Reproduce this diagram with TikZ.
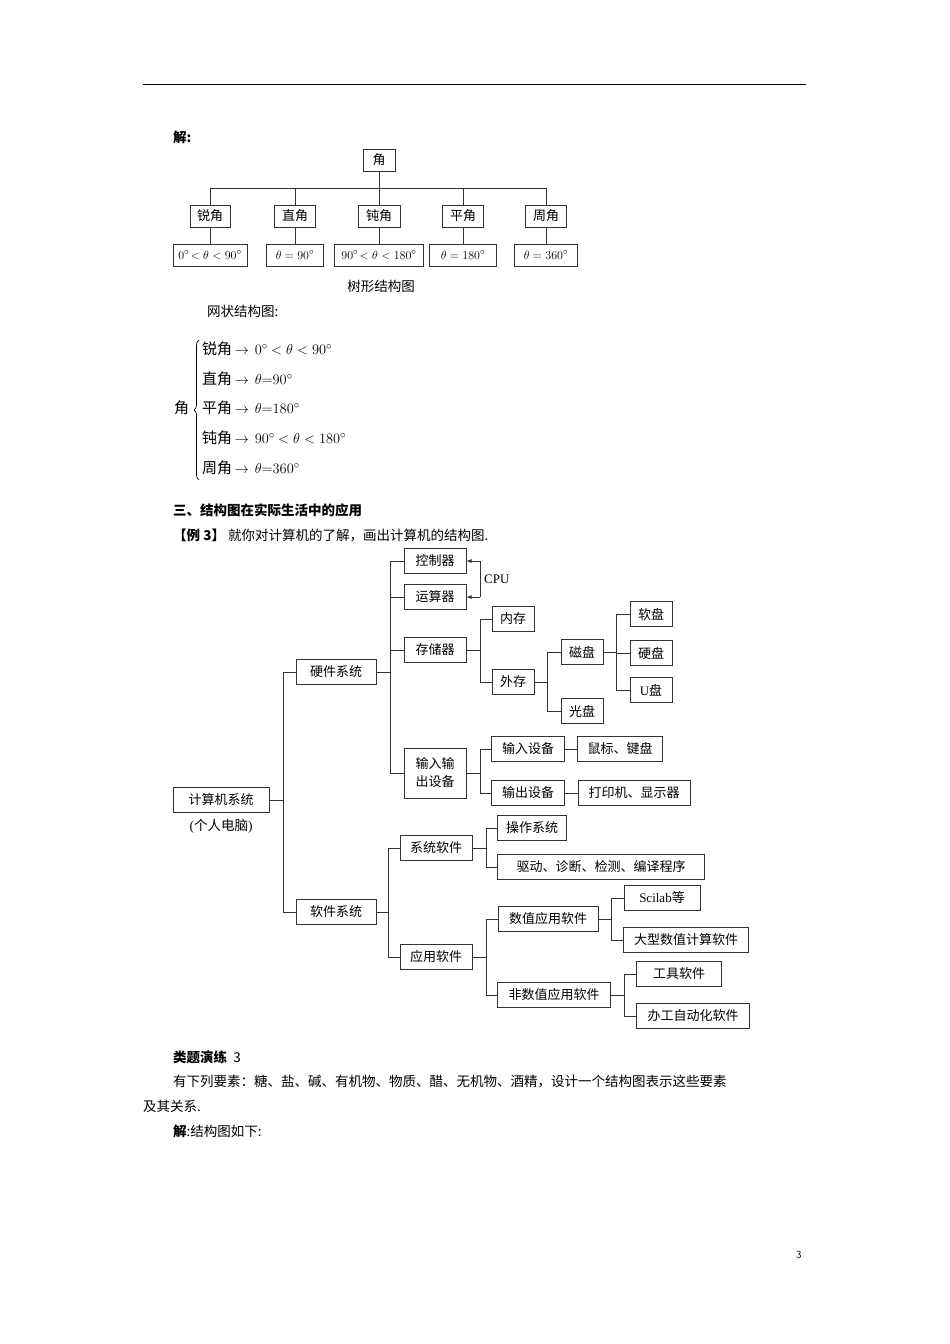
\documentclass[tikz,border=0pt]{standalone}
\usepackage{fontspec}
\setmainfont{Liberation Serif}
\newfontfamily\cjk{Noto Sans CJK SC}
\usetikzlibrary{decorations.pathreplacing}
\tikzset{
  bx/.style={draw=black!80, line width=0.8pt, inner sep=1pt, minimum height=25pt, font=\cjk\fontsize{13}{15}\selectfont, align=center},
  sbx/.style={bx, minimum height=22pt},
  ln/.style={draw=black!80, line width=0.8pt},
  txt/.style={anchor=west, inner sep=0pt, font=\cjk\fontsize{13.5}{16}\selectfont},
}
\newcommand\bx[6][bx]{\node[#1, minimum width=#5pt] (#2) at (#3,#4) {#6};}
\begin{document}
\begin{tikzpicture}[x=1pt,y=-1pt]
\useasboundingbox (0,0) rectangle (950,1344);
\draw[line width=0.8pt] (143,84) -- (806,84);
\node[txt, font=\cjk\bfseries\fontsize{13.5}{16}\selectfont] (jie) at (173,137) {解:};
% tree
\bx[sbx]{r}{379}{160}{32}{角}
\bx[sbx]{a1}{210}{216}{40}{锐角}
\bx[sbx]{a2}{295}{216}{41}{直角}
\bx[sbx]{a3}{379}{216}{42}{钝角}
\bx[sbx]{a4}{463}{216}{41}{平角}
\bx[sbx]{a5}{546}{216}{41}{周角}
\bx[sbx]{b1}{210}{255}{74}{$0^\circ\!<\theta<90^\circ$}
\bx[sbx]{b2}{295}{255}{57}{$\theta=90^\circ$}
\bx[sbx]{b3}{379}{255}{89}{$90^\circ\!<\theta<180^\circ$}
\bx[sbx]{b4}{463}{255}{67}{$\theta=180^\circ$}
\bx[sbx]{b5}{546}{255}{63}{$\theta=360^\circ$}
\draw[ln] (r.south) -- (379,188);
\draw[ln] (210,188) -- (546,188);
\foreach \i/\x in {1/210,2/295,3/379,4/463,5/546}{
  \draw[ln] (\x,188) -- (a\i.north);
  \draw[ln] (a\i.south) -- (b\i.north);
}
\node[txt, anchor=center] (cap) at (381,286) {树形结构图};
\node[txt] (net) at (207,311) {网状结构图:};
% brace
\node[txt, font=\cjk\fontsize{15}{17}\selectfont] (ang) at (174,408) {角};
\draw[decorate, decoration={brace, amplitude=5pt, mirror}, line width=0.7pt] (199,340) -- (199,480);
\begin{scope}[every node/.style={txt, font=\cjk\fontsize{15}{17}\selectfont}]
\node (l1) at (202,349) {锐角$\,\rightarrow\,$ $0^\circ$ $<\theta<90^\circ$};
\node (l2) at (202,379) {直角$\,\rightarrow\,$ $\theta$$=$$90^\circ$};
\node (l3) at (202,408) {平角$\,\rightarrow\,$ $\theta$$=$$180^\circ$};
\node (l4) at (202,438) {钝角$\,\rightarrow\,$ $90^\circ$ $<\theta<180^\circ$};
\node (l5) at (202,468) {周角$\,\rightarrow\,$ $\theta$$=$$360^\circ$};
\end{scope}
\node[txt, font=\cjk\bfseries\fontsize{13.5}{16}\selectfont] (sec) at (173,510) {三、结构图在实际生活中的应用};
\node[txt] (ex) at (173,535) {{\bfseries 【例 3】}\ 就你对计算机的了解，画出计算机的结构图.};
% computer tree
\bx{kz}{435}{561}{62}{控制器}
\bx{ys}{435}{597}{62}{运算器}
\bx{hw}{336}{672}{80}{硬件系统}
\bx{cc}{435}{650}{62}{存储器}
\bx{nc}{513}{619}{42}{内存}
\bx{wc}{513}{682}{42}{外存}
\bx{cp}{582}{652}{42}{磁盘}
\bx{gp}{582}{711}{42}{光盘}
\bx{rp}{651}{614}{42}{软盘}
\bx{yp}{651}{653}{42}{硬盘}
\bx{up}{651}{690}{42}{{\rmfamily U}盘}
\node[bx, minimum width=62pt, minimum height=50pt, font=\cjk\fontsize{13}{18}\selectfont] (io) at (435,773) {输入输\\出设备};
\bx{sr}{528}{749}{73}{输入设备}
\bx{sb}{620}{749}{85}{鼠标、键盘}
\bx{sc}{528}{793}{73}{输出设备}
\bx{dy}{634}{793}{112}{打印机、显示器}
\bx{pc}{221}{800}{96}{计算机系统}
\node[txt, anchor=center] (pcs) at (221,826) {\rmfamily(\cjk 个人电脑\rmfamily)};
\bx{sw}{336}{912}{80}{软件系统}
\bx{xt}{436}{848}{72}{系统软件}
\bx{yy}{436}{957}{72}{应用软件}
\bx{cz}{532}{828}{69}{操作系统}
\bx{qd}{601}{867}{207}{驱动、诊断、检测、编译程序}
\bx{sz}{548}{919}{100}{数值应用软件}
\bx{fs}{554}{995}{113}{非数值应用软件}
\bx{sl}{662}{898}{76}{{\rmfamily Scilab}等}
\bx{dx}{686}{940}{125}{大型数值计算软件}
\bx{gj}{679}{974}{85}{工具软件}
\bx{bg}{693}{1016}{113}{办工自动化软件}
\newcommand\elb[3]{\foreach \c in {#3}{\draw[ln] (#1.east) -- (#2,0 |- #1.east) |- (\c.west);}}
\elb{pc}{283}{hw,sw}
\elb{hw}{390}{kz,ys,cc,io}
\elb{cc}{480}{nc,wc}
\elb{wc}{547}{cp,gp}
\elb{cp}{616}{rp,yp,up}
\elb{io}{480}{sr,sc}
\draw[ln] (sr.east) -- (sb.west);
\draw[ln] (sc.east) -- (dy.west);
\elb{sw}{388}{xt,yy}
\elb{xt}{486}{cz,qd}
\elb{yy}{486}{sz,fs}
\elb{sz}{611}{sl,dx}
\elb{fs}{624}{gj,bg}
% CPU
\coordinate (cpuA) at (480,561);
\coordinate (cpuB) at (480,597);
\draw[ln, -latex] (cpuA) -- (kz.east);
\draw[ln, -latex] (cpuB) -- (ys.east);
\draw[ln] (cpuA) -- (cpuB);
\node[txt, font=\rmfamily\fontsize{13}{15}\selectfont] (cpu) at (484,579) {CPU};
% bottom text
\node[txt, font=\cjk\fontsize{13.5}{16}\selectfont] (lt) at (173,1057) {{\bfseries 类题演练}\ \ 3};
\node[txt] (p1) at (173,1081) {有下列要素：糖、盐、碱、有机物、物质、醋、无机物、酒精，设计一个结构图表示这些要素};
\node[txt] (p2) at (143,1106) {及其关系.};
\node[txt] (p3) at (173,1131) {{\bfseries 解}:结构图如下:};
\node[txt, font=\fontsize{11}{13}\selectfont\sffamily] (pg) at (796,1255) {3};
\end{tikzpicture}
\end{document}
